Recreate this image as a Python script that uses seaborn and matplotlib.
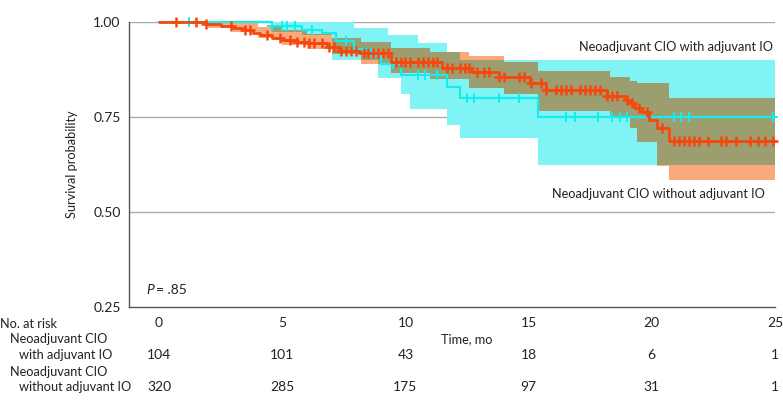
import numpy as np
import matplotlib
matplotlib.use('Agg')
import matplotlib.pyplot as plt
import matplotlib.transforms as mtransforms
import seaborn as sns

# Kaplan-Meier estimates (time in months).
# Neoadjuvant CIO with adjuvant IO
with_t = [0, 4.6, 5.8, 6.6, 7.2, 7.9, 8.6, 9.0, 9.8, 11.7, 12.2, 15.4]
with_s = [1.0, 0.99, 0.98, 0.97, 0.95, 0.93, 0.91, 0.89, 0.86, 0.83, 0.80, 0.75]
with_ci_t = [0, 4.6, 5.8, 7.0, 7.9, 8.9, 9.3, 9.8, 10.2, 10.5, 11.7, 12.2, 15.4]
with_ci_lo = [1.0, 0.975, 0.965, 0.90, 0.90, 0.853, 0.853, 0.81, 0.77, 0.77, 0.73, 0.695, 0.624]
with_ci_hi = [1.0, 1.0, 1.0, 1.0, 0.985, 0.985, 0.966, 0.966, 0.966, 0.945, 0.92, 0.90, 0.90]
with_cens = [1.2, 4.6, 5.0, 5.2, 5.5, 6.2, 7.6, 9.5, 10.5, 10.8, 11.3, 12.5, 12.8,
             13.8, 14.6, 16.5, 16.9, 17.8, 18.4, 18.7, 19.0, 20.9, 21.2, 21.5, 24.9]

# Neoadjuvant CIO without adjuvant IO
without_t = [0, 1.9, 2.5, 3.0, 3.5, 3.8, 4.1, 4.6, 5.0, 5.6, 6.0, 6.8, 7.3, 8.1, 9.4,
             11.5, 12.7, 13.8, 15.05, 15.7, 18.2, 18.9, 19.1, 19.3, 19.6, 19.9, 20.2, 20.7]
without_s = [1.0, 0.994, 0.99, 0.985, 0.978, 0.972, 0.965, 0.958, 0.952, 0.948, 0.944,
             0.935, 0.925, 0.918, 0.895, 0.88, 0.868, 0.855, 0.84, 0.82, 0.805, 0.795,
             0.787, 0.775, 0.763, 0.742, 0.72, 0.687]
without_ci_t = [0, 2.0, 3.0, 4.0, 5.0, 6.0, 7.0, 8.2, 9.4, 11.0, 12.6, 14.0, 15.4,
                18.3, 19.1, 19.4, 20.2, 20.7]
without_ci_lo = [1.0, 0.985, 0.975, 0.958, 0.94, 0.93, 0.915, 0.89, 0.866, 0.85, 0.826,
                 0.81, 0.765, 0.75, 0.72, 0.685, 0.62, 0.584]
without_ci_hi = [1.0, 1.0, 0.998, 0.988, 0.978, 0.968, 0.958, 0.948, 0.932, 0.92, 0.91,
                 0.895, 0.872, 0.855, 0.845, 0.84, 0.84, 0.80]
without_cens = [0.7, 1.5, 1.9, 2.9, 3.5, 3.7, 4.4, 4.9, 5.3, 5.6, 5.9, 6.1, 6.3, 6.6, 6.9,
                7.1, 7.4, 7.6, 7.8, 8.0, 8.3, 8.5, 8.7, 8.9, 9.1, 9.3, 9.6, 9.8, 10.0,
                10.2, 10.5, 10.7, 10.9, 11.1, 11.3, 11.7, 11.9, 12.2, 12.4, 12.6, 12.9,
                13.2, 13.4, 13.8, 14.0, 14.6, 14.8, 15.1, 15.5, 15.7, 16.1, 16.3, 16.5,
                16.7, 17.1, 17.3, 17.5, 17.7, 17.9, 18.2, 18.4, 18.6, 19.0, 19.2, 19.5,
                19.8, 20.4, 20.9, 21.1, 21.3, 21.5, 21.7, 21.9, 22.3, 22.8, 23.0, 23.4,
                24.0, 24.3, 24.6, 24.9]

# Number at risk table
risk_times = [0, 5, 10, 15, 20, 25]
risk_with = [104, 101, 43, 18, 6, 1]
risk_without = [320, 285, 175, 97, 31, 1]

t_end = 25

cyan_line = '#12EEEE'
cyan_fill = '#80F4F4'
red_line = '#F5480F'
red_fill = '#F8AA7C'
olive_fill = '#9C9E70'
ink = '#222222'
fs_num = 10      # numbers (ticks, risk counts)
fs_txt = 9.2     # words (the original uses a condensed face)

sns.set_style('white')
plt.rcParams['font.family'] = ['Lato', 'DejaVu Sans']
plt.rcParams['font.size'] = fs_num


def step_at(t, v, grid):
    idx = np.searchsorted(np.asarray(t), grid, side='right') - 1
    return np.asarray(v)[idx]


W, H = 783, 405
fig = plt.figure(figsize=(W / 100, H / 100), dpi=100)
ax = fig.add_axes([129 / W, 1 - 307 / H, (775 - 129) / W, (307 - 22) / H])

# Confidence bands, with the overlap drawn in its own colour
grid = np.array(sorted(set(with_ci_t) | set(without_ci_t) | {t_end}))
w_lo, w_hi = step_at(with_ci_t, with_ci_lo, grid), step_at(with_ci_t, with_ci_hi, grid)
o_lo, o_hi = step_at(without_ci_t, without_ci_lo, grid), step_at(without_ci_t, without_ci_hi, grid)
ov_lo = np.maximum(w_lo, o_lo)
ov_hi = np.maximum(np.minimum(w_hi, o_hi), ov_lo)
ax.fill_between(grid, w_lo, w_hi, step='post', color=cyan_fill, linewidth=0, zorder=1)
ax.fill_between(grid, o_lo, o_hi, step='post', color=red_fill, linewidth=0, zorder=1.1)
ax.fill_between(grid, ov_lo, ov_hi, step='post', color=olive_fill, linewidth=0, zorder=1.2)

# Survival curves
sns.lineplot(x=with_t + [t_end], y=with_s + [with_s[-1]], drawstyle='steps-post',
             color=cyan_line, linewidth=1.6, estimator=None, sort=False, ax=ax,
             zorder=3, clip_on=False)
sns.lineplot(x=without_t + [t_end], y=without_s + [without_s[-1]], drawstyle='steps-post',
             color=red_line, linewidth=2.0, estimator=None, sort=False, ax=ax,
             zorder=4, clip_on=False)

# Censoring marks
sns.scatterplot(x=with_cens, y=step_at(with_t, with_s, np.array(with_cens)), marker='+',
                s=45, linewidth=1.4, color=cyan_line, ax=ax, zorder=3.5, clip_on=False)
sns.scatterplot(x=without_cens, y=step_at(without_t, without_s, np.array(without_cens)),
                marker='+', s=55, linewidth=1.8, color=red_line, ax=ax, zorder=4.5,
                clip_on=False)

ax.set_xlim(-1.22, 25)
ax.set_ylim(0.25, 1.0)
ax.set_xticks(risk_times)
ax.set_yticks([0.25, 0.50, 0.75, 1.00])
ax.set_yticklabels(['0.25', '0.50', '0.75', '1.00'])
for yv in [0.50, 0.75, 1.00]:
    ax.axhline(yv, color='#AAAAAA', linewidth=1.0, zorder=0.5)
for side in ['top', 'right']:
    ax.spines[side].set_visible(False)
for side in ['left', 'bottom']:
    ax.spines[side].set_color('#555555')
    ax.spines[side].set_linewidth(1.0)
ax.tick_params(axis='both', direction='out', length=4, width=1, color='#555555',
               labelsize=fs_num, labelcolor=ink)
ax.tick_params(axis='y', pad=2)
ax.tick_params(axis='x', pad=3)
ax.set_ylabel('Survival probability', fontsize=fs_txt, color=ink)
ax.yaxis.set_label_coords((78 - 129) / (775 - 129), 0.5)
ax.set_xlabel('')

# Group labels and P value
ax.text(24.9, 0.935, 'Neoadjuvant CIO with adjuvant IO', ha='right', va='center',
        fontsize=fs_txt, color=ink)
ax.text(24.6, 0.548, 'Neoadjuvant CIO without adjuvant IO', ha='right', va='center',
        fontsize=fs_txt, color=ink)
fig.text(146 / W, 1 - 290 / H, 'P', fontstyle='italic', ha='left', va='center',
         fontsize=fs_num, color=ink)
fig.text(156 / W, 1 - 290 / H, '= .85', ha='left', va='center', fontsize=fs_num, color=ink)

# Risk table below the axis
tr = mtransforms.blended_transform_factory(ax.transData, fig.transFigure)
ax.text(12.5, 1 - 339 / H, 'Time, mo', transform=tr, ha='center', va='center',
        fontsize=fs_txt, color=ink)
for x, n1, n2 in zip(risk_times, risk_with, risk_without):
    ax.text(x, 1 - 355 / H, str(n1), transform=tr, ha='center', va='center',
            fontsize=fs_num, color=ink)
    ax.text(x, 1 - 387 / H, str(n2), transform=tr, ha='center', va='center',
            fontsize=fs_num, color=ink)

fig.text(0 / W, 1 - 324 / H, 'No. at risk', ha='left', va='center', fontsize=fs_txt,
         color=ink)
fig.text(10 / W, 1 - 339 / H, 'Neoadjuvant CIO', ha='left', va='center', fontsize=fs_txt,
         color=ink)
fig.text(19 / W, 1 - 355 / H, 'with adjuvant IO', ha='left', va='center', fontsize=fs_txt,
         color=ink)
fig.text(10 / W, 1 - 372 / H, 'Neoadjuvant CIO', ha='left', va='center', fontsize=fs_txt,
         color=ink)
fig.text(19 / W, 1 - 387 / H, 'without adjuvant IO', ha='left', va='center',
         fontsize=fs_txt, color=ink)

fig.savefig('out.png', dpi=100)
